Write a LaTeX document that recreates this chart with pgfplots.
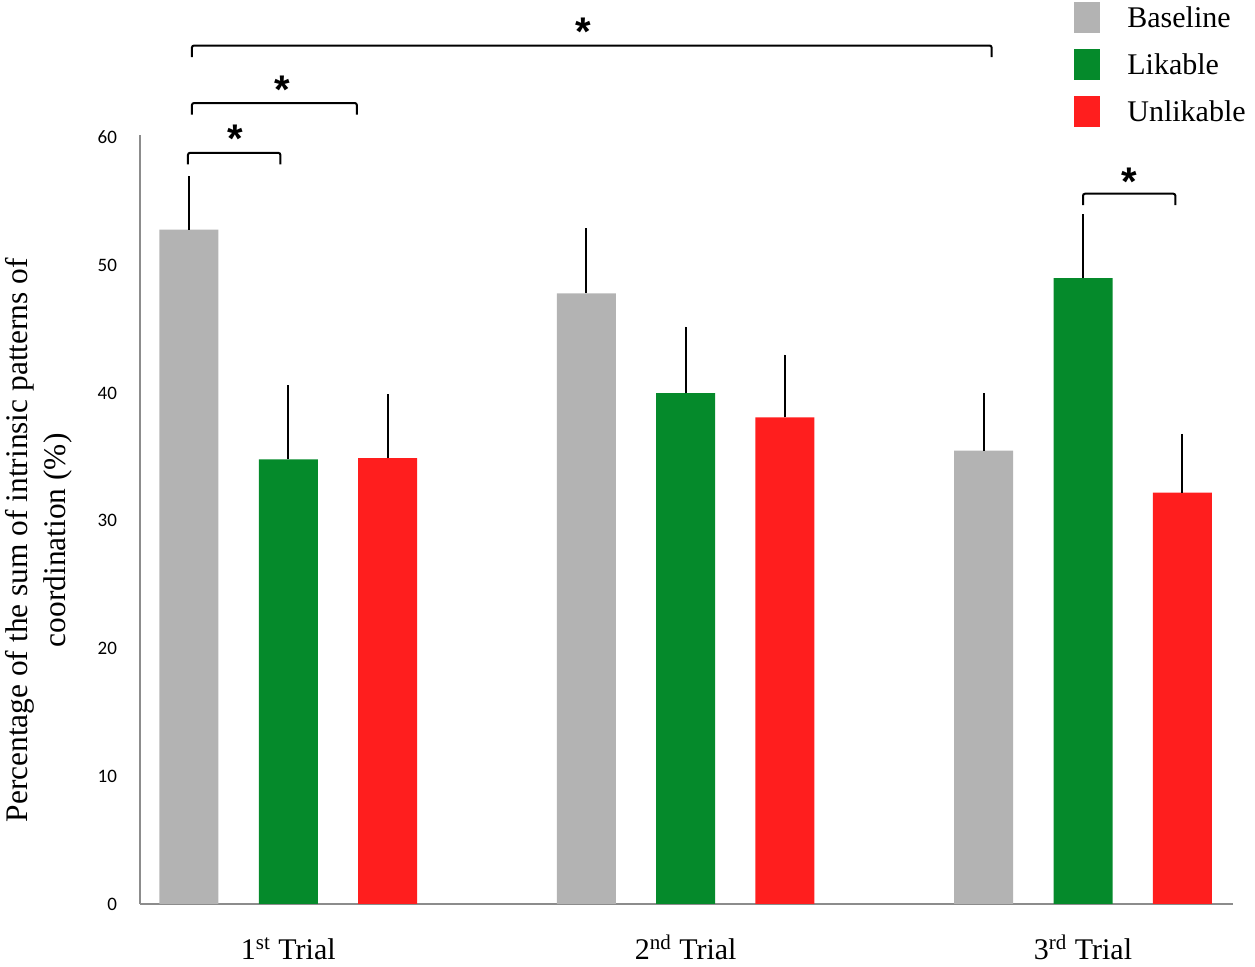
\documentclass[border=0pt]{standalone}
\usepackage{fontspec}
\setmainfont{Liberation Serif}
\newfontfamily\tickfont{Carlito}
\newfontfamily\astfont{Liberation Sans}
\usepackage{pgfplots}
\usepackage{pgfplotstable}
\pgfplotsset{compat=1.18}
\definecolor{cbase}{RGB}{179,179,179}
\definecolor{clike}{RGB}{5,138,43}
\definecolor{cunlike}{RGB}{255,30,30}
\definecolor{caxis}{RGB}{140,140,140}

\pgfplotstableread{
x y e
0 52.8 4.2
4 47.8 5.1
8 35.5 4.5
}\baseline
\pgfplotstableread{
x y e
1 34.8 5.8
5 40.0 5.2
9 49.0 5.0
}\likable
\pgfplotstableread{
x y e
2 34.9 5.0
6 38.1 4.9
10 32.2 4.6
}\unlikable

\begin{document}
\begin{tikzpicture}
\begin{axis}[
  scale only axis,
  width=546.5pt, height=384.5pt,
  xmin=-0.493, xmax=10.51,
  ymin=0, ymax=60.2,
  axis x line*=bottom, axis y line*=left,
  axis line style={caxis, line width=1pt, -},
  major tick length=0pt,
  xtick={1,5,9},
  xticklabels={1\textsuperscript{st} Trial, 2\textsuperscript{nd} Trial, 3\textsuperscript{rd} Trial},
  xticklabel style={font=\fontsize{15}{18}\selectfont, anchor=base, yshift=-28pt},
  ytick={0,10,...,60},
  yticklabel style={font=\tickfont\fontsize{9.5}{11}\selectfont, xshift=-8pt},
  /pgf/number format/assume math mode=true,
  ylabel={\begin{tabular}{c}Percentage of the sum of intrinsic patterns of\\coordination (\%)\end{tabular}},
  ylabel style={font=\fontsize{15.7}{19}\selectfont, at={(axis description cs:-0.0924,0.473)}, anchor=center, rotate=0},
  ybar, bar width=29.5pt, bar shift=0pt,
  clip=false,
  legend style={draw=none, fill=none, at={(axis description cs:0.8545,1.173)}, anchor=north west,
    font=\fontsize{15}{18}\selectfont, row sep=7.5pt, inner sep=0pt,
    /tikz/every odd column/.append style={column sep=11.5pt}},
  legend cell align=left,
  legend image code/.code={\fill[#1] (0pt,-7.5pt) rectangle (13pt,8pt);},
  error bars/y dir=plus, error bars/y explicit,
  error bars/error mark=none,
  error bars/error bar style={black, line width=1pt},
]
\addplot[fill=cbase, draw=none] table[x=x,y=y,y error=e]{\baseline};
\addlegendentry{Baseline}
\addplot[fill=clike, draw=none] table[x=x,y=y,y error=e]{\likable};
\addlegendentry{Likable}
\addplot[fill=cunlike, draw=none] table[x=x,y=y,y error=e]{\unlikable};
\addlegendentry{Unlikable}

\draw[black, line width=1pt, rounded corners=1pt] (axis cs:0.03,66.3) -- (axis cs:0.03,67.2) -- (axis cs:8.08,67.2) -- (axis cs:8.08,66.3);
\draw[black, line width=1pt, rounded corners=1pt] (axis cs:0.03,61.8) -- (axis cs:0.03,62.7) -- (axis cs:1.69,62.7) -- (axis cs:1.69,61.8);
\draw[black, line width=1pt, rounded corners=1pt] (axis cs:-0.01,57.9) -- (axis cs:-0.01,58.8) -- (axis cs:0.92,58.8) -- (axis cs:0.92,57.9);
\draw[black, line width=1pt, rounded corners=1pt] (axis cs:9.0,54.7) -- (axis cs:9.0,55.6) -- (axis cs:9.93,55.6) -- (axis cs:9.93,54.7);
\node[anchor=base, inner sep=0pt, font=\astfont\bfseries\fontsize{20}{24}\selectfont] at (axis cs:3.97,67.2) {*};
\node[anchor=base, inner sep=0pt, font=\astfont\bfseries\fontsize{20}{24}\selectfont] at (axis cs:0.94,62.7) {*};
\node[anchor=base, inner sep=0pt, font=\astfont\bfseries\fontsize{20}{24}\selectfont] at (axis cs:0.47,58.8) {*};
\node[anchor=base, inner sep=0pt, font=\astfont\bfseries\fontsize{20}{24}\selectfont] at (axis cs:9.47,55.5) {*};
\end{axis}
\pgfresetboundingbox
\path[use as bounding box] (-70pt,-31.5pt) rectangle (557.5pt,452pt);
\end{tikzpicture}
\end{document}
